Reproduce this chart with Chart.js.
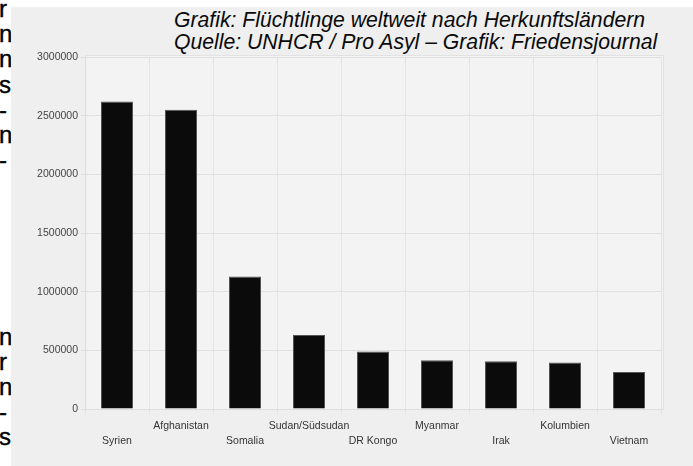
<!DOCTYPE html>
<html>
<head>
<meta charset="utf-8">
<script src="https://cdn.jsdelivr.net/npm/chart.js@4.4.0/dist/chart.umd.min.js"></script>
<style>
  html, body { margin: 0; padding: 0; background: #fff; }
  #page { position: relative; width: 693px; height: 466px; overflow: hidden; background: #fff; }
  #strip { position: absolute; left: 0; top: 0; width: 11px; height: 466px; overflow: hidden; }
  #strip div { position: absolute; left: -1px; white-space: nowrap; font: 24px "Liberation Sans", Arial, sans-serif; color: #000; line-height: 25px; -webkit-text-stroke: 0.4px #000; }
  #panel { position: absolute; left: 11px; top: 7px; width: 682px; height: 459px; background: #efefef; }
  #title { position: absolute; left: 174px; top: 9px; font: italic 21.2px "Liberation Sans", Arial, sans-serif; color: #0a0a0a; line-height: 22px; white-space: nowrap; }
  canvas { position: absolute; left: 11px; top: 7px; }
</style>
</head>
<body>
<div id="page">
  <div id="strip"></div>
  <div id="panel"></div>
  <div id="title">Grafik: Flüchtlinge weltweit nach Herkunftsländern<br>Quelle: UNHCR / Pro Asyl – Grafik: Friedensjournal</div>
  <canvas id="chart" width="682" height="459"></canvas>
</div>
<script>
// Daten
const countries = ["Syrien", "Afghanistan", "Somalia", "Sudan/Südsudan", "DR Kongo", "Myanmar", "Irak", "Kolumbien", "Vietnam"];
const refugees = [2620000, 2550000, 1130000, 630000, 490000, 415000, 407000, 396000, 316000];
const yTicks = [0, 500000, 1000000, 1500000, 2000000, 2500000, 3000000];

// abgeschnittene Zeilenenden des Artikeltexts links (nur das sichtbare Zeichen)
const stripLines = ["r", "n", "n", "s", "-", "n", "-", "", "", "", "", "", "", "n", "r", "n", "-", "s"];

const strip = document.getElementById("strip");
stripLines.forEach((t, i) => {
  const d = document.createElement("div");
  d.textContent = t;
  d.style.top = (i * 25.2 - 4) + "px";
  strip.appendChild(d);
});

// Hintergrund des Plotbereichs
const areaBg = {
  id: "areaBg",
  beforeDraw(chart) {
    const { ctx, chartArea: a } = chart;
    ctx.save();
    ctx.fillStyle = "#f3f3f3";
    ctx.fillRect(a.left, a.top - 2, a.right - a.left + 2, a.bottom - a.top + 2);
    ctx.strokeStyle = "#e2e2e2";
    ctx.lineWidth = 1;
    ctx.strokeRect(a.left + 0.5, a.top - 1.5, a.right - a.left + 2, a.bottom - a.top + 2);
    ctx.restore();
  }
};

new Chart(document.getElementById("chart"), {
  type: "bar",
  data: {
    labels: countries,
    datasets: [{
      data: refugees,
      backgroundColor: "#0b0b0b",
      borderColor: "#555555",
      borderWidth: 1,
      barPercentage: 0.5,
      categoryPercentage: 1.0,
    }],
  },
  options: {
    responsive: false,
    animation: false,
    layout: { padding: { top: 50, right: 32, left: 0, bottom: 0 } },
    plugins: {
      legend: { display: false },
      tooltip: { enabled: false },
    },
    scales: {
      x: {
        grid: { color: "#e4e4e4", tickLength: 5, offset: true },
        border: { color: "#dddddd" },
        ticks: {
          color: "#333",
          font: { family: "Liberation Sans, Arial, sans-serif", size: 10.5, lineHeight: 1.43 },
          padding: 5,
          maxRotation: 0,
          autoSkip: false,
          callback: (v, i) => (i % 2 === 0 ? ["", countries[i]] : [countries[i]]),
        },
        afterFit: (s) => { s.height = 57; },
      },
      y: {
        min: 0,
        max: 3000000,
        afterBuildTicks: (s) => { s.ticks = yTicks.map(v => ({ value: v })); },
        grid: { color: "#e0e0e0", tickLength: 4 },
        border: { color: "#dddddd" },
        ticks: {
          color: "#444",
          font: { family: "Liberation Sans, Arial, sans-serif", size: 10.5 },
          padding: 3,
          callback: (v) => String(v),
        },
        afterFit: (s) => { s.width = 74; },
      },
    },
  },
  plugins: [areaBg],
});
</script>
</body>
</html>
